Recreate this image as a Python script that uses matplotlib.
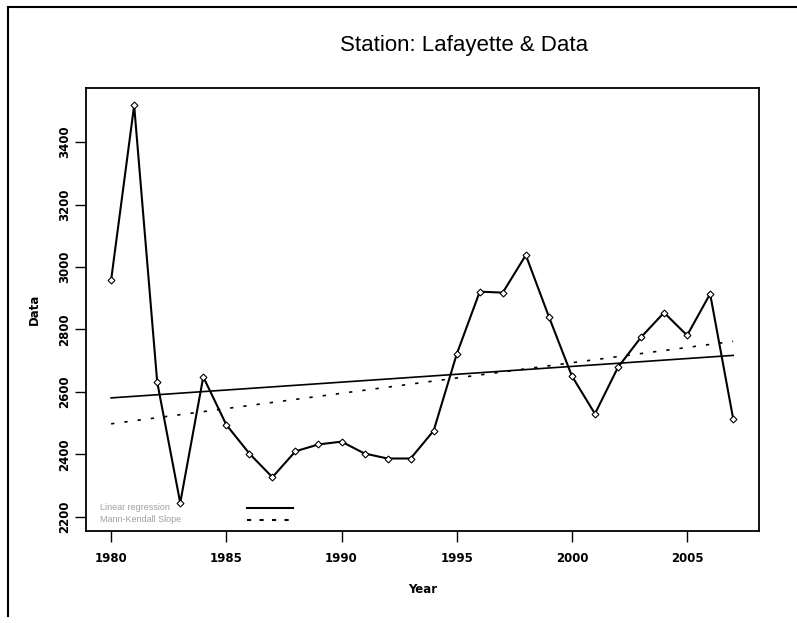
import numpy as np
import matplotlib
matplotlib.use("Agg")
from matplotlib import pyplot as plt

# Annual values
years = np.arange(1980, 2008)
values = [2958, 3517, 2632, 2245, 2648, 2495, 2403, 2327, 2410, 2432,
          2441, 2403, 2387, 2387, 2476, 2721, 2921, 2918, 3038, 2841,
          2651, 2530, 2679, 2775, 2854, 2781, 2914, 2514]

# Trend lines (endpoints at 1980 and 2007)
trend_years = [1980, 2007]
linear_fit = [2581, 2717]
mann_kendall = [2498, 2762]

xticks = [1980, 1985, 1990, 1995, 2000, 2005]
yticks = [2200, 2400, 2600, 2800, 3000, 3200, 3400]

plt.rcParams['font.family'] = ['Liberation Sans', 'DejaVu Sans']

fig = plt.figure(figsize=(7.97, 6.23), dpi=100)
# page frame: only left and top edges show in the original
fig.add_artist(plt.Line2D([0.010, 0.010], [0.012, 0.989], transform=fig.transFigure,
                          color='black', linewidth=1.5))
fig.add_artist(plt.Line2D([0.010, 1.0], [0.989, 0.989], transform=fig.transFigure,
                          color='black', linewidth=1.5))

ax = fig.add_axes([0.1079, 0.1477, 0.8444, 0.7111])
ax.plot(years, values, color='black', linewidth=1.5, marker='D', markersize=3.5,
        markerfacecolor='white', markeredgecolor='black', markeredgewidth=0.8)
ax.plot(trend_years, linear_fit, color='black', linewidth=1.2)
ax.plot(trend_years, mann_kendall, color='black', linewidth=1.2, linestyle=(0, (2, 6)))

ax.set_xlim(1978.91, 2008.12)
ax.set_ylim(2155, 3573)
ax.set_xticks(xticks)
ax.set_yticks(yticks)
tick_font = dict(family='DejaVu Sans', fontsize=8.5, fontweight='bold')
ax.set_xticklabels([str(t) for t in xticks], **tick_font)
ax.set_yticklabels([str(t) for t in yticks], rotation=90, va='center', **tick_font)
ax.tick_params(direction='out', length=8, width=1)
ax.tick_params(axis='x', pad=7)
ax.tick_params(axis='y', pad=3)
for s in ax.spines.values():
    s.set_linewidth(1.3)

fig.text(0.582, 0.927, 'Station: Lafayette & Data', fontsize=16, ha='center', va='center')
ax.set_xlabel('Year', family='DejaVu Sans', fontsize=8.5, fontweight='bold', labelpad=13)
ax.set_ylabel('Data', family='DejaVu Sans', fontsize=8.5, fontweight='bold', labelpad=12)

# legend drawn by hand, like the original
ax.text(0.021, 0.053, 'Linear regression', transform=ax.transAxes, fontsize=6.5,
        color='#a0a0a0', va='center')
ax.text(0.021, 0.025, 'Mann-Kendall Slope', transform=ax.transAxes, fontsize=6.5,
        color='#a0a0a0', va='center')
ax.plot([0.239, 0.308], [0.052, 0.052], transform=ax.transAxes, color='black', linewidth=1.5)
ax.plot([0.239, 0.308], [0.025, 0.025], transform=ax.transAxes, color='black',
        linewidth=1.5, linestyle=(0, (2, 4)))

fig.savefig('out.png', dpi=100)
